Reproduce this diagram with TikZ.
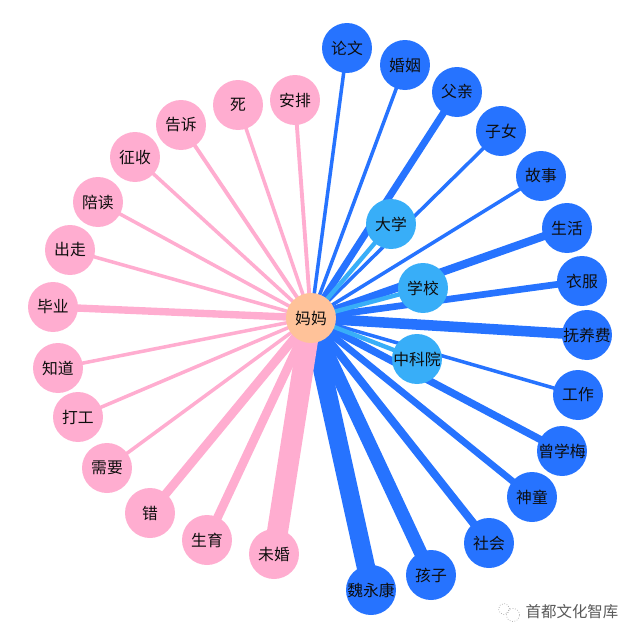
\documentclass[tikz,border=0pt]{standalone}
\usepackage{fontspec}
\newfontfamily\cjk{Noto Sans CJK SC}
\usepackage{xcolor}
\usetikzlibrary{backgrounds}
\definecolor{darkblue}{HTML}{2673FF}
\definecolor{lightblue}{HTML}{38AEF8}
\definecolor{softpink}{HTML}{FFADD0}
\definecolor{peach}{HTML}{FFC299}

\begin{document}
\begin{tikzpicture}[
    x=0.02cm, y=-0.02cm,
    every node/.style={circle, minimum size=1cm, inner sep=0pt, font=\cjk\fontsize{9pt}{10pt}\selectfont, text=black!95},
    topic/.style={fill=darkblue},
    school/.style={fill=lightblue},
    word/.style={fill=softpink},
    hub/.style={fill=peach},
    blueline/.style={draw=darkblue},
    schoolline/.style={draw=lightblue},
    pinkline/.style={draw=softpink}
]
\useasboundingbox (0,0) rectangle (640,640);

% center
\node[hub] (mama) at (311,318) {妈妈};

% blue ring
\node[topic] (lunwen) at (347,48) {论文};
\node[topic] (hunyin) at (405,65) {婚姻};
\node[topic] (fuqin) at (457,92) {父亲};
\node[topic] (zinv) at (501,131) {子女};
\node[topic] (gushi) at (541,176) {故事};
\node[topic] (shenghuo) at (567,228) {生活};
\node[topic] (yifu) at (582,281) {衣服};
\node[topic] (fuyang) at (587,335) {抚养费};
\node[topic] (gongzuo) at (578,395) {工作};
\node[topic] (zeng) at (562,451) {曾学梅};
\node[topic] (shentong) at (532,497) {神童};
\node[topic] (shehui) at (489,543) {社会};
\node[topic] (haizi) at (431,575) {孩子};
\node[topic] (wei) at (371,590) {魏永康};

% inner ring
\node[school] (daxue) at (391,224) {大学};
\node[school] (xuexiao) at (423,288) {学校};
\node[school] (zky) at (417,359) {中科院};

% pink ring
\node[word] (anpai) at (295,100) {安排};
\node[word] (si) at (238,105) {死};
\node[word] (gaosu) at (181,125) {告诉};
\node[word] (zhengshou) at (135,157) {征收};
\node[word] (peidu) at (98,202) {陪读};
\node[word] (chuzou) at (70,250) {出走};
\node[word] (biye) at (53,307) {毕业};
\node[word] (zhidao) at (58,368) {知道};
\node[word] (dagong) at (78,417) {打工};
\node[word] (xuyao) at (107,468) {需要};
\node[word] (cuo) at (150,513) {错};
\node[word] (shengyu) at (207,540) {生育};
\node[word] (weihun) at (274,554) {未婚};

% edges
\begin{scope}[on background layer]
\draw[blueline, line width=2pt] (mama.center) -- (lunwen.center);
\draw[blueline, line width=2pt] (mama.center) -- (hunyin.center);
\draw[blueline, line width=4pt] (mama.center) -- (fuqin.center);
\draw[blueline, line width=2pt] (mama.center) -- (zinv.center);
\draw[blueline, line width=2pt] (mama.center) -- (gushi.center);
\draw[blueline, line width=4.6pt] (mama.center) -- (shenghuo.center);
\draw[blueline, line width=3.8pt] (mama.center) -- (yifu.center);
\draw[blueline, line width=6pt] (mama.center) -- (fuyang.center);
\draw[blueline, line width=2pt] (mama.center) -- (gongzuo.center);
\draw[blueline, line width=4.2pt] (mama.center) -- (zeng.center);
\draw[blueline, line width=3.8pt] (mama.center) -- (shentong.center);
\draw[blueline, line width=4.6pt] (mama.center) -- (shehui.center);
\draw[blueline, line width=7.6pt] (mama.center) -- (haizi.center);
\draw[blueline, line width=10.5pt] (mama.center) -- (wei.center);
\draw[schoolline, line width=2.5pt] (mama.center) -- (daxue.center);
\draw[schoolline, line width=2.5pt] (mama.center) -- (xuexiao.center);
\draw[schoolline, line width=2.5pt] (mama.center) -- (zky.center);
\draw[pinkline, line width=2.2pt] (mama.center) -- (anpai.center);
\draw[pinkline, line width=2pt] (mama.center) -- (si.center);
\draw[pinkline, line width=2.2pt] (mama.center) -- (gaosu.center);
\draw[pinkline, line width=2pt] (mama.center) -- (zhengshou.center);
\draw[pinkline, line width=2pt] (mama.center) -- (peidu.center);
\draw[pinkline, line width=2pt] (mama.center) -- (chuzou.center);
\draw[pinkline, line width=4.2pt] (mama.center) -- (biye.center);
\draw[pinkline, line width=2pt] (mama.center) -- (zhidao.center);
\draw[pinkline, line width=2pt] (mama.center) -- (dagong.center);
\draw[pinkline, line width=2pt] (mama.center) -- (xuyao.center);
\draw[pinkline, line width=5pt] (mama.center) -- (cuo.center);
\draw[pinkline, line width=5pt] (mama.center) -- (shengyu.center);
\draw[pinkline, line width=12pt] (mama.center) -- (weihun.center);
\end{scope}

% watermark
\node[minimum size=0pt, text=black!65, font=\cjk\fontsize{8.8pt}{10pt}\selectfont] (mark) at (572,612) {首都文化智库};
\node[minimum size=0.22cm, draw=black!35, densely dotted, line width=0.4pt] (iconA) at (504,609) {};
\node[minimum size=0.26cm, draw=black!35, densely dotted, line width=0.4pt] (iconB) at (513,615) {};

\end{tikzpicture}
\end{document}
